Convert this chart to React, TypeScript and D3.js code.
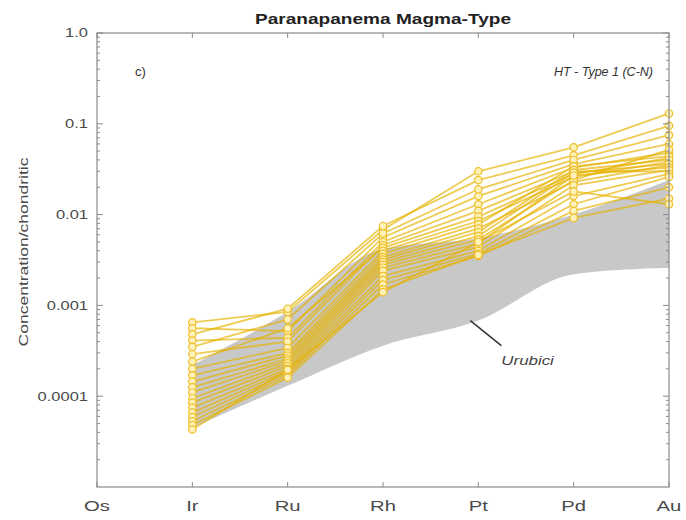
import React from 'react';
import * as d3 from 'd3';

const categories = ['Os', 'Ir', 'Ru', 'Rh', 'Pt', 'Pd', 'Au'];
const sampleElements = ['Ir', 'Ru', 'Rh', 'Pt', 'Pd', 'Au'];

const irValues = [6.5e-4, 5.6e-4, 4.8e-4, 4.1e-4, 3.5e-4, 2.9e-4, 2.4e-4, 2.0e-4, 1.7e-4, 1.45e-4, 1.25e-4, 1.1e-4, 9.5e-5, 8.5e-5, 7.5e-5, 6.6e-5, 5.9e-5, 5.3e-5, 4.8e-5, 4.3e-5];
const ruValues = [8.5e-4, 5.2e-4, 9.2e-4, 4.4e-4, 7.0e-4, 4.0e-4, 5.6e-4, 3.4e-4, 3.0e-4, 2.8e-4, 2.6e-4, 2.45e-4, 2.3e-4, 2.15e-4, 2.0e-4, 1.9e-4, 1.8e-4, 1.7e-4, 1.6e-4, 1.95e-4];
const rhValues = [6.8e-3, 5.6e-3, 7.5e-3, 5.0e-3, 6.2e-3, 4.6e-3, 4.3e-3, 4.0e-3, 3.7e-3, 3.4e-3, 3.2e-3, 3.0e-3, 2.8e-3, 2.6e-3, 2.4e-3, 2.1e-3, 1.9e-3, 1.7e-3, 1.5e-3, 1.4e-3];
const ptValues = [0.030, 0.016, 0.024, 0.013, 0.019, 0.011, 0.0095, 0.0085, 0.0078, 0.0070, 0.0064, 0.0058, 0.0053, 0.0048, 0.0044, 0.0040, 0.0037, 0.0035, 0.0036, 0.0050];
const pdValues = [0.055, 0.036, 0.045, 0.033, 0.040, 0.030, 0.028, 0.026, 0.034, 0.023, 0.031, 0.029, 0.024, 0.027, 0.021, 0.016, 0.013, 0.011, 0.0092, 0.018];
const auValues = [0.13, 0.060, 0.095, 0.048, 0.075, 0.030, 0.042, 0.038, 0.044, 0.035, 0.040, 0.036, 0.052, 0.033, 0.031, 0.028, 0.026, 0.020, 0.015, 0.013];

const urubiciElements = ['Ir', 'Ru', 'Rh', 'Pt', 'Pd', 'Au'];
const urubiciUpper = [2.2e-4, 8.5e-4, 4.2e-3, 5.5e-3, 0.010, 0.024];
const urubiciLower = [4.5e-5, 1.3e-4, 3.6e-4, 6.8e-4, 2.2e-3, 2.6e-3];

const yTickValues = [1, 0.1, 0.01, 0.001, 0.0001];
const yTickLabels = ['1.0', '0.1', '0.01', '0.001', '0.0001'];

const FONT = 'Arial, "Liberation Sans", Helvetica, sans-serif';

export default function App() {
  const W = 686, H = 520;
  const left = 97, right = 669, top = 33, bottom = 487;
  const x = d3.scalePoint<string>().domain(categories).range([left, right]);
  const y = d3.scaleLog().domain([1e-5, 1]).range([bottom, top]);

  const columns = [irValues, ruValues, rhValues, ptValues, pdValues, auValues];
  const samples = irValues.map((_, i) => sampleElements.map((el, j) => ({ el, v: columns[j][i] })));

  const line = d3.line<{ el: string; v: number }>().x(d => x(d.el) as number).y(d => y(d.v));

  const field = urubiciElements.map((el, i) => ({ el, hi: urubiciUpper[i], lo: urubiciLower[i] }));
  const area = d3.area<{ el: string; hi: number; lo: number }>()
    .x(d => x(d.el) as number)
    .y0(d => y(d.lo))
    .y1(d => y(d.hi))
    .curve(d3.curveMonotoneX);

  const minorTicks: number[] = [];
  for (let e = -5; e < 0; e++) for (let m = 2; m <= 9; m++) minorTicks.push(m * Math.pow(10, e));

  const axisColor = '#8a8a8a';

  const ptX = x('Pt') as number;

  return (
    <svg width={W} height={H} style={{ position: 'absolute', left: 0, top: 0, background: '#fff' }} fontFamily={FONT}>
      <rect x={0} y={0} width={W} height={H} fill="#fff" />
      {/* Urubici field */}
      <path d={area(field) || ''} fill="#c8c8c8" />

      {/* sample lines */}
      <g fill="none" stroke="#E6B300" strokeWidth={1.8} strokeOpacity={0.68}>
        {samples.map((s, i) => <path key={i} d={line(s) || ''} />)}
      </g>
      <g fill="#FFF2B8" stroke="#EDBE2A" strokeWidth={1.2}>
        {samples.map((s, i) => s.map((d, j) => (
          <circle key={i + '-' + j} cx={x(d.el) as number} cy={y(d.v)} r={3.7} />
        )))}
      </g>

      {/* Urubici annotation */}
      <line x1={ptX - 8} y1={y(6.8e-4)} x2={ptX + 23} y2={y(3.6e-4)} stroke="#333" strokeWidth={1.5} />
      <text transform={`translate(${ptX + 23}, ${y(2.2e-4)}) scale(1.3,1)`} fontSize={13} fontStyle="italic" fill="#444">Urubici</text>

      {/* frame */}
      <rect x={left} y={top} width={right - left} height={bottom - top} fill="none" stroke={axisColor} strokeWidth={1.2} />

      {/* y ticks */}
      {yTickValues.map((v, i) => (
        <g key={'yt' + i}>
          <line x1={left} x2={left + 6} y1={y(v)} y2={y(v)} stroke={axisColor} />
          <line x1={right} x2={right - 6} y1={y(v)} y2={y(v)} stroke={axisColor} />
          <text transform={`translate(${left - 9}, ${y(v)}) scale(1.32,1)`} dy="0.35em" textAnchor="end" fontSize={12.5} fill="#4a4a4a">{yTickLabels[i]}</text>
        </g>
      ))}
      {minorTicks.map((v, i) => (
        <g key={'ym' + i}>
          <line x1={left} x2={left + 3} y1={y(v)} y2={y(v)} stroke={axisColor} />
          <line x1={right} x2={right - 3} y1={y(v)} y2={y(v)} stroke={axisColor} />
        </g>
      ))}

      {/* x ticks */}
      {categories.map(c => (
        <g key={'xt' + c}>
          <line x1={x(c) as number} x2={x(c) as number} y1={bottom} y2={bottom - 5} stroke={axisColor} />
          <line x1={x(c) as number} x2={x(c) as number} y1={top} y2={top + 5} stroke={axisColor} />
          <text transform={`translate(${x(c) as number}, ${bottom + 19}) scale(1.35,1)`} dy="0.35em" textAnchor="middle" fontSize={15} fill="#4a4a4a">{c}</text>
        </g>
      ))}

      {/* labels */}
      <text x={(left + right) / 2} y={24} textAnchor="middle" fontSize={15} fontWeight="bold" fill="#222" textLength={256} lengthAdjust="spacingAndGlyphs">Paranapanema Magma-Type</text>
      <text x={left + 38} y={76} fontSize={13} fill="#333">c)</text>
      <text x={right - 16} y={76} textAnchor="end" fontSize={12.5} fontStyle="italic" fill="#333">HT - Type 1 (C-N)</text>
      <text transform={`translate(23, 252) rotate(-90) scale(1.3,1)`} textAnchor="middle" dy="0.35em" fontSize={13.5} fill="#4a4a4a">Concentration/chondritic</text>
    </svg>
  );
}
